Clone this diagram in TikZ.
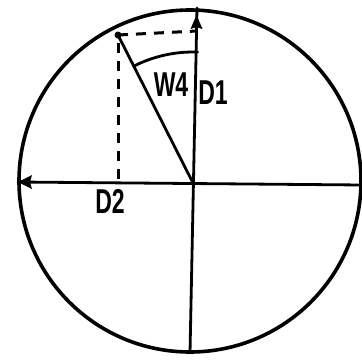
\documentclass[tikz,border=0pt]{standalone}
\usetikzlibrary{arrows.meta}
\usepackage{fontspec}
\setsansfont{Liberation Sans}
\begin{document}
\begin{tikzpicture}[x=1pt,y=1pt,
  ink/.style={line width=2.8pt, line cap=round, black},
  dashink/.style={line width=3pt, dash pattern=on 10pt off 8pt},
  lbl/.style={font=\sffamily\bfseries\fontsize{23}{23}\selectfont, inner sep=0pt}]
\useasboundingbox (0,0) rectangle (362,360);
\coordinate (C) at (190,179);
\coordinate (O) at (193,177);
\coordinate (T) at (197,352);
\coordinate (B) at (190,7);
\coordinate (L) at (18,178);
\coordinate (R) at (362,175);
\coordinate (P) at (118,325);
\coordinate (Q) at (197,329);
\coordinate (F) at (118,177);
% circle
\draw[line width=3.6pt] (C) circle (171);
% axes
\draw[ink] (B) -- (T);
\draw[ink] (R) -- (L);
% left arrowhead
\fill (L) -- ++(14,7) -- ++(-2,-7) -- ++(2,-7) -- cycle;
% up arrowhead on D1
\fill (196.5,345) -- ++(-6,-14) -- ++(6,2) -- ++(6,-2) -- cycle;
% radial line
\draw[ink] (O) -- (P);
\fill (P) circle (3.5);
% dashed projections
\draw[dashink] (P) -- (Q);
\draw[dashink] ([yshift=-8pt]P) -- (F);
% angle arc
\draw[ink] (O) ++(88:131) arc[start angle=88, end angle=117, radius=131];
% labels
\node[lbl] (w4) at (171,275) {\scalebox{1}[1.5]{W4}};
\node[lbl] (d1) at (213,267) {\scalebox{1}[1.5]{D1}};
\node[lbl] (d2) at (110,159) {\scalebox{1}[1.5]{D2}};
\end{tikzpicture}
\end{document}
